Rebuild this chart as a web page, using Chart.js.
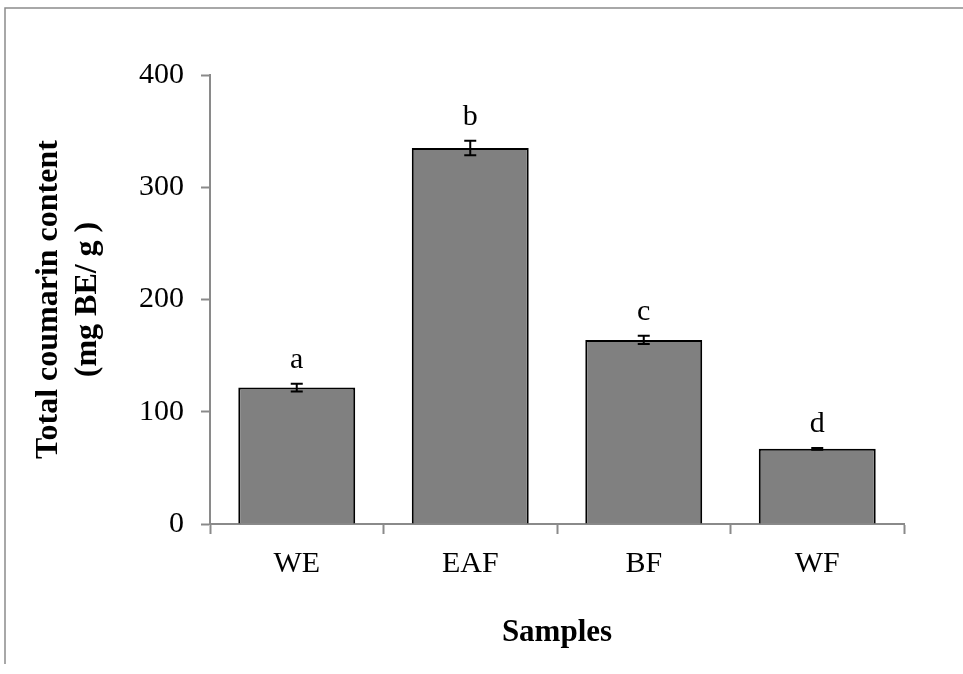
<!DOCTYPE html>
<html>
<head>
<meta charset="utf-8">
<script src="https://cdn.jsdelivr.net/npm/chart.js@4.4.1/dist/chart.umd.min.js"></script>
<style>
  html, body { margin: 0; padding: 0; background: #fff; }
  #wrap { width: 963px; height: 674px; }
</style>
</head>
<body>
<div id="wrap"><canvas id="chart" width="963" height="674"></canvas></div>
<script>
// Data
const samples = ["WE", "EAF", "BF", "WF"];
const coumarin = [121.5, 335, 164, 67];
const errors = [3.5, 6.5, 3.7, 0.8];
const letters = ["a", "b", "c", "d"];
const yTicks = [0, 100, 200, 300, 400];

const serif = "'Liberation Serif', 'Times New Roman', serif";
const axisGray = "#8a8a8a";

// thin grey frame along the top and left edge of the picture
const framePlugin = {
  id: "frame",
  beforeDraw(chart) {
    const ctx = chart.ctx;
    ctx.save();
    ctx.strokeStyle = "#8c8c8c";
    ctx.lineWidth = 1.5;
    ctx.beginPath();
    ctx.moveTo(963, 8);
    ctx.lineTo(5, 8);
    ctx.lineTo(5, 664);
    ctx.stroke();
    ctx.restore();
  }
};

// error bars plus the significance letters above them
const errorPlugin = {
  id: "errorBars",
  afterDatasetsDraw(chart) {
    const ctx = chart.ctx;
    const y = chart.scales.y;
    const meta = chart.getDatasetMeta(0);
    ctx.save();
    ctx.strokeStyle = "#000";
    ctx.lineWidth = 2;
    meta.data.forEach((bar, i) => {
      const x = bar.x;
      const hi = y.getPixelForValue(coumarin[i] + errors[i]);
      const lo = y.getPixelForValue(coumarin[i] - errors[i]);
      ctx.beginPath();
      ctx.moveTo(x, hi); ctx.lineTo(x, lo);
      ctx.moveTo(x - 6, hi); ctx.lineTo(x + 6, hi);
      ctx.moveTo(x - 6, lo); ctx.lineTo(x + 6, lo);
      ctx.stroke();

      ctx.fillStyle = "#000";
      ctx.font = "30px " + serif;
      ctx.textAlign = "center";
      ctx.textBaseline = "alphabetic";
      ctx.fillText(letters[i], x, hi - 16);
    });
    ctx.restore();
  }
};

new Chart(document.getElementById("chart"), {
  type: "bar",
  data: {
    labels: samples,
    datasets: [{
      data: coumarin,
      backgroundColor: "#808080",
      borderColor: "#000",
      borderWidth: 2,
      barPercentage: 0.674,
      categoryPercentage: 1
    }]
  },
  options: {
    responsive: false,
    animation: false,
    layout: { padding: { top: 75, right: 59, bottom: 0, left: 0 } },
    plugins: {
      legend: { display: false },
      tooltip: { enabled: false }
    },
    scales: {
      x: {
        afterFit(scale) { scale.height = 150; },
        grid: { drawOnChartArea: false, drawTicks: true, tickLength: 10, tickColor: axisGray, tickWidth: 2, offset: true },
        border: { display: true, color: axisGray, width: 2 },
        ticks: { color: "#000", padding: 12, font: { family: serif, size: 30 } },
        title: {
          display: true,
          text: "Samples",
          color: "#000",
          padding: { bottom: 24, top: 0 },
          font: { family: serif, size: 31, weight: "bold", lineHeight: 1.1 }
        }
      },
      y: {
        min: 0,
        max: 400,
        afterFit(scale) { scale.width = 210; },
        afterBuildTicks(scale) { scale.ticks = yTicks.map(v => ({ value: v })); },
        grid: { drawOnChartArea: false, drawTicks: true, tickLength: 9, tickColor: axisGray, tickWidth: 2 },
        border: { display: true, color: axisGray, width: 2 },
        ticks: { color: "#000", padding: 17, font: { family: serif, size: 30 } },
        title: {
          display: true,
          text: ["Total coumarin content", "(mg BE/ g )"],
          color: "#000",
          padding: { top: 30, bottom: 0 },
          font: { family: serif, size: 32, weight: "bold", lineHeight: 1.2 }
        }
      }
    }
  },
  plugins: [framePlugin, errorPlugin]
});
</script>
</body>
</html>
